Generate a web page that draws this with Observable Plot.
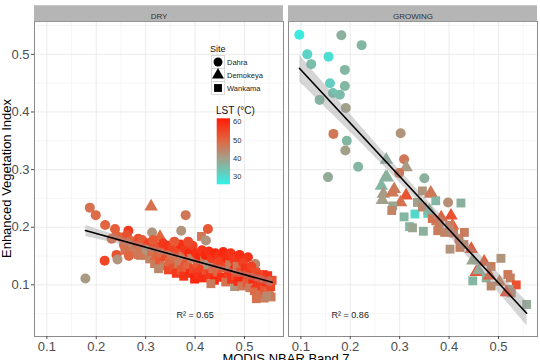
<!DOCTYPE html>
<html>
<head>
<meta charset="utf-8">
<script src="https://cdn.jsdelivr.net/npm/d3@7"></script>
<script src="https://cdn.jsdelivr.net/npm/@observablehq/plot@0.6"></script>
<style>
  html, body { margin: 0; padding: 0; background: #fff; }
  #wrap { position: relative; width: 540px; height: 360px; overflow: hidden; font-family: "Liberation Sans", Arial, sans-serif; }
  #overlay { position: absolute; left: 0; top: 0; pointer-events: none; }
</style>
</head>
<body>
<div id="wrap"></div>
<script>
// ---- data ----
const panels = ["DRY", "GROWING"];
const siteNames = ["Dahra", "Demokeya", "Wankama"];
const siteCode = {D: "Dahra", K: "Demokeya", W: "Wankama"};
const xTicks = [0.1, 0.2, 0.3, 0.4, 0.5];
const yTicks = [0.1, 0.2, 0.3, 0.4, 0.5];
const lstTicks = [30, 40, 50, 60];
const r2Text = ["R\u00B2 = 0.65", "R\u00B2 = 0.86"];
const r2X = [0.40, 0.20];
const r2Y = [0.047, 0.047];

// [x (Band 7), y (EVI), site, LST]
const dryPoints = [
  [0.187,0.234,"D",48],[0.199,0.221,"D",49],[0.311,0.236,"K",48],[0.381,0.221,"D",47],
  [0.218,0.204,"D",50],[0.238,0.197,"D",51],[0.265,0.194,"D",57],[0.241,0.185,"D",50],
  [0.231,0.180,"D",49],[0.285,0.180,"D",53],[0.313,0.191,"D",42],[0.329,0.183,"K",50],
  [0.372,0.194,"D",42],[0.426,0.197,"D",52],[0.413,0.184,"W",47],[0.422,0.177,"D",42],
  [0.217,0.142,"D",55],[0.241,0.152,"D",53],[0.243,0.144,"D",42],[0.178,0.111,"D",41],
  [0.522,0.136,"D",44],[0.507,0.148,"D",58],[0.480,0.097,"W",42],[0.524,0.076,"W",48],
  [0.540,0.077,"W",47],[0.554,0.079,"W",46],
  [0.252,0.182,"D",51],[0.256,0.169,"D",49],[0.262,0.186,"D",53],[0.270,0.176,"D",50],
  [0.276,0.166,"W",47],[0.282,0.172,"D",55],[0.288,0.161,"D",48],[0.293,0.178,"D",52],
  [0.297,0.151,"W",46],[0.284,0.152,"D",47],[0.301,0.166,"D",54],[0.272,0.158,"D",46],
  [0.306,0.172,"D",56],[0.258,0.160,"W",48],[0.266,0.150,"D",50],
  [0.302,0.160,"D",42],[0.308,0.145,"W",45],[0.312,0.158,"W",48],[0.316,0.170,"D",55],
  [0.318,0.137,"W",46],[0.322,0.150,"K",50],[0.325,0.163,"D",53],[0.328,0.142,"W",52],
  [0.332,0.155,"W",49],[0.335,0.172,"D",57],[0.337,0.133,"W",47],[0.340,0.148,"K",54],
  [0.343,0.160,"D",51],[0.346,0.126,"W",55],[0.348,0.140,"W",50],[0.326,0.128,"W",44],
  [0.315,0.178,"D",52],[0.345,0.168,"D",58],
  [0.352,0.152,"W",48],[0.354,0.165,"D",56],[0.356,0.131,"W",53],[0.359,0.144,"K",49],
  [0.362,0.120,"W",57],[0.364,0.158,"D",55],[0.367,0.137,"W",46],[0.370,0.170,"D",59],
  [0.372,0.126,"W",52],[0.375,0.150,"W",47],[0.377,0.115,"W",58],[0.380,0.162,"D",57],
  [0.382,0.140,"K",53],[0.385,0.131,"W",50],[0.388,0.155,"D",60],[0.390,0.120,"W",59],
  [0.393,0.146,"W",46],[0.395,0.168,"D",56],[0.397,0.128,"W",55],[0.399,0.110,"W",60],
  [0.358,0.175,"D",52],[0.386,0.175,"D",54],
  [0.402,0.155,"D",59],[0.404,0.138,"W",52],[0.406,0.118,"W",58],[0.409,0.148,"D",60],
  [0.411,0.128,"K",56],[0.414,0.160,"D",58],[0.416,0.112,"W",59],[0.419,0.142,"W",47],
  [0.421,0.152,"D",60],[0.424,0.125,"W",54],[0.426,0.135,"W",42],[0.428,0.158,"D",59],
  [0.431,0.117,"W",57],[0.434,0.146,"D",57],[0.436,0.128,"W",48],[0.439,0.108,"W",60],
  [0.441,0.155,"D",60],[0.444,0.136,"K",55],[0.446,0.122,"W",50],[0.449,0.150,"D",58],
  [0.432,0.102,"W",46],
  [0.452,0.140,"W",56],[0.454,0.113,"W",59],[0.457,0.157,"D",60],[0.459,0.128,"K",54],
  [0.462,0.105,"W",48],[0.464,0.146,"D",59],[0.467,0.120,"W",57],[0.470,0.135,"W",46],
  [0.472,0.155,"D",58],[0.474,0.110,"W",58],[0.477,0.126,"K",60],[0.480,0.143,"D",57],
  [0.482,0.116,"W",53],[0.485,0.132,"W",47],[0.487,0.106,"W",59],[0.490,0.152,"D",59],
  [0.492,0.122,"W",55],[0.495,0.098,"W",47],[0.497,0.138,"D",56],[0.499,0.113,"K",60],
  [0.502,0.128,"W",58],[0.505,0.104,"W",52],[0.508,0.118,"W",57],[0.511,0.095,"W",46],
  [0.514,0.132,"D",56],[0.517,0.110,"W",60],[0.520,0.090,"W",49],[0.523,0.122,"W",54],
  [0.526,0.102,"K",58],[0.529,0.114,"W",56],[0.532,0.086,"W",48],[0.535,0.098,"W",57],
  [0.538,0.118,"W",55],[0.541,0.092,"W",52],[0.544,0.105,"W",59],[0.547,0.116,"W",58],
  [0.550,0.086,"W",47],[0.553,0.097,"W",55],[0.556,0.108,"W",53],[0.545,0.080,"W",44]
];

const growPoints = [
  [0.097,0.534,"D",27],[0.182,0.533,"D",37],[0.223,0.516,"D",36],[0.113,0.500,"D",31],
  [0.156,0.496,"D",29],[0.121,0.483,"D",35],[0.189,0.473,"D",36],[0.159,0.450,"D",32],
  [0.189,0.445,"D",36],[0.165,0.433,"D",34],[0.179,0.430,"D",35],[0.138,0.421,"D",36],
  [0.191,0.407,"D",40],[0.166,0.362,"D",47],[0.302,0.363,"D",42],[0.193,0.350,"D",36],
  [0.190,0.333,"D",40],[0.216,0.305,"D",36],[0.155,0.287,"D",38],[0.309,0.318,"D",47],
  [0.273,0.317,"K",37],[0.313,0.304,"K",41],[0.299,0.294,"D",48],[0.350,0.285,"D",37],
  [0.272,0.287,"K",37],[0.263,0.272,"K",36],[0.289,0.266,"K",46],[0.267,0.258,"K",41],
  [0.265,0.247,"K",40],[0.313,0.255,"K",53],[0.302,0.243,"K",48],[0.286,0.237,"W",39],
  [0.284,0.229,"W",45],[0.309,0.218,"W",36],[0.331,0.223,"W",30],[0.357,0.224,"W",31],
  [0.320,0.201,"W",36],[0.326,0.199,"W",39],[0.348,0.193,"W",37],[0.346,0.263,"W",42],
  [0.363,0.258,"K",46],[0.373,0.246,"W",36],[0.398,0.243,"D",43],[0.424,0.242,"W",37],
  [0.336,0.243,"W",40],[0.346,0.235,"W",44],[0.360,0.229,"K",36],[0.373,0.211,"W",46],
  [0.380,0.205,"W",47],[0.366,0.215,"W",48],[0.377,0.194,"W",46],[0.391,0.191,"W",45],
  [0.407,0.203,"K",50],[0.409,0.190,"W",47],[0.431,0.191,"W",46],[0.404,0.220,"K",53],
  [0.402,0.162,"W",42],[0.422,0.165,"W",46],[0.445,0.162,"K",53],[0.420,0.180,"W",47],
  [0.430,0.170,"W",45],[0.448,0.142,"K",39],[0.471,0.140,"K",52],[0.485,0.132,"W",46],
  [0.505,0.146,"W",42],[0.448,0.107,"W",36],[0.455,0.122,"K",53],[0.460,0.125,"K",38],
  [0.475,0.112,"W",37],[0.482,0.116,"K",52],[0.485,0.098,"W",44],[0.502,0.105,"K",46],
  [0.519,0.118,"W",47],[0.524,0.112,"W",46],[0.536,0.100,"W",53],[0.522,0.092,"W",40],
  [0.526,0.086,"W",43],[0.516,0.087,"K",54],[0.557,0.066,"W",38],[0.285,0.260,"K",47],
  [0.363,0.260,"K",47],[0.384,0.217,"K",51],[0.401,0.203,"W",46],[0.275,0.286,"K",37]
];

(function () {
// ---- build table ----
const rows = [];
for (const [x, y, s, t] of dryPoints) rows.push({panel: "DRY", x, y, site: siteCode[s], lst: t});
for (const [x, y, s, t] of growPoints) rows.push({panel: "GROWING", x, y, site: siteCode[s], lst: t});
const r2Rows = panels.map((p, i) => ({panel: p, text: r2Text[i], x: r2X[i], y: r2Y[i]}));

const xDomain = [0.075, 0.579];
const yDomain = [0.0104, 0.557];
const minorX = [0.15, 0.25, 0.35, 0.45, 0.55];
const minorY = [0.05, 0.15, 0.25, 0.35, 0.45, 0.55];

const chart = Plot.plot({
  width: 540, height: 360,
  marginLeft: 34, marginRight: 2, marginTop: 21, marginBottom: 24,
  style: {fontFamily: "'Liberation Sans', Arial, sans-serif", background: "white", overflow: "visible"},
  fx: {domain: panels, paddingInner: 0.018, paddingOuter: 0, axis: null, label: null},
  x: {domain: xDomain, label: null, axis: null},
  y: {domain: yDomain, label: null, axis: null},
  color: {type: "linear", domain: [26, 40, 50, 62], range: ["#33f0e6", "#a3a08a", "#e2653f", "#ff1a05"], interpolate: "rgb"},
  symbol: {domain: siteNames, range: ["circle", "triangle", "square"]},
  marks: [
    Plot.ruleX(minorX, {stroke: "#f4f4f4", strokeWidth: 0.8}),
    Plot.ruleY(minorY, {stroke: "#f4f4f4", strokeWidth: 0.8}),
    Plot.ruleX(xTicks, {stroke: "#ebebeb", strokeWidth: 1}),
    Plot.ruleY(yTicks, {stroke: "#ebebeb", strokeWidth: 1}),
    Plot.dot(rows, {fx: "panel", x: "x", y: "y", fill: "lst", symbol: "site", r: 5, stroke: "none"}),
    Plot.linearRegressionY(rows, {fx: "panel", x: "x", y: "y", stroke: "black", strokeWidth: 1.6, fill: "#999", fillOpacity: 0.4}),
    Plot.text(r2Rows, {fx: "panel", x: "x", y: "y", text: "text", fontSize: 9, fill: "#222"}),
    Plot.frame({stroke: "#8c8c8c", strokeWidth: 1}),
    Plot.ruleY([yDomain[1]], {stroke: "#b5b5b5", strokeWidth: 16, dy: -8.3}),
    Plot.text(panels, {fx: d => d, text: d => d, frameAnchor: "top", dy: -8.3, fontSize: 8, fill: "#333"}),
    Plot.axisX(xTicks, {tickFormat: ".1f", tickSize: 3, tickPadding: 2, fontSize: 13, color: "#4d4d4d", label: null}),
    Plot.axisY(yTicks, {tickFormat: ".1f", tickSize: 3, tickPadding: 2, fontSize: 13, color: "#4d4d4d", label: null})
  ]
});

const wrap = document.getElementById("wrap");
wrap.appendChild(chart);

// ---- overlay: axis titles and legends ----
const colorScale = chart.scale("color");
const svg = d3.select(wrap).append("svg").attr("id", "overlay").attr("width", 540).attr("height", 360)
  .style("font-family", "'Liberation Sans', Arial, sans-serif");

svg.append("text").attr("transform", "translate(10.5,178.5) rotate(-90)").attr("text-anchor", "middle")
  .attr("font-size", 13).attr("fill", "#000").text("Enhanced Vegetation Index");
svg.append("text").attr("x", 286).attr("y", 363).attr("text-anchor", "middle")
  .attr("font-size", 13).attr("fill", "#000").text("MODIS NBAR Band 7");

// Site legend
const lg = svg.append("g");
lg.append("text").attr("x", 210).attr("y", 52).attr("font-size", 9).attr("fill", "#111").text("Site");
const shapeRange = ["circle", "triangle", "square"];
const symMap = {circle: d3.symbolCircle, triangle: d3.symbolTriangle, square: d3.symbolSquare};
siteNames.forEach((name, i) => {
  const cy = 62 + i * 13;
  lg.append("rect").attr("x", 211.5).attr("y", cy - 6.5).attr("width", 13).attr("height", 13)
    .attr("fill", "#fff").attr("stroke", "#d0d0d0").attr("stroke-width", 0.8);
  lg.append("path").attr("transform", `translate(218,${cy})`)
    .attr("d", d3.symbol(symMap[shapeRange[i]], 62)())
    .attr("fill", "#000");
  lg.append("text").attr("x", 227).attr("y", cy + 2.7).attr("font-size", 7.5).attr("fill", "#222").text(name);
});

// LST colorbar
const barTop = 118.3, barBot = 184.3, vTop = 61.9, vBot = 25.8;
const vy = v => barTop + (vTop - v) * (barBot - barTop) / (vTop - vBot);
lg.append("text").attr("x", 216).attr("y", 113.5).attr("font-size", 10).attr("fill", "#111").text("LST  (\u00B0C)");
const defs = svg.append("defs");
const grad = defs.append("linearGradient").attr("id", "lstgrad").attr("x1", 0).attr("y1", 1).attr("x2", 0).attr("y2", 0);
d3.range(0, 21).forEach(i => {
  const v = vBot + (vTop - vBot) * i / 20;
  grad.append("stop").attr("offset", i / 20).attr("stop-color", colorScale.apply(v));
});
lg.append("rect").attr("x", 216.7).attr("y", barTop).attr("width", 13.3).attr("height", barBot - barTop).attr("fill", "url(#lstgrad)");
lstTicks.forEach(v => {
  lg.append("text").attr("x", 233).attr("y", vy(v) + 2.7).attr("font-size", 7.5).attr("fill", "#333").text(v);
});
})();
</script>
</body>
</html>
